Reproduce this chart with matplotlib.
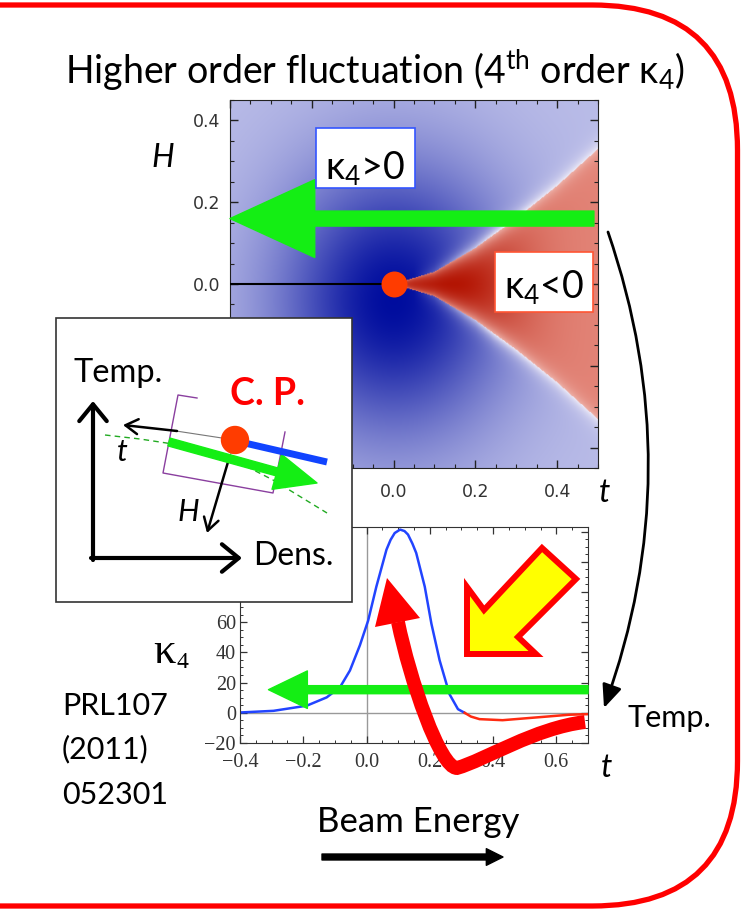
import numpy as np
import matplotlib
matplotlib.use('Agg')
import matplotlib.pyplot as plt
from matplotlib.patches import FancyBboxPatch, FancyArrowPatch, Rectangle, Polygon, PathPatch, Circle
from matplotlib.path import Path

plt.rcParams['font.family'] = ['Lato', 'DejaVu Sans']
plt.rcParams['mathtext.fontset'] = 'custom'
plt.rcParams['mathtext.rm'] = 'Lato'
plt.rcParams['mathtext.it'] = 'Lato:italic'
plt.rcParams['mathtext.bf'] = 'Lato:bold'

# --- kappa4 sign map in the (t, H) plane ---
MAP_T_RANGE = (-0.4, 0.5)
MAP_H_RANGE = (-0.45, 0.45)
WEDGE_T = [0.0, 0.1, 0.2, 0.3, 0.4, 0.5]          # kappa4<0 region boundary
WEDGE_H = [0.0, 0.03, 0.088, 0.16, 0.24, 0.33]
MAP_TICKS = [-0.4, -0.2, 0.0, 0.2, 0.4]
MAP_TICK_LABELS = ['-0.4', '-0.2', '0.0', '0.2', '0.4']
FIRST_ORDER_T = [-0.4, 0.0]
PATH_H = 0.16
PATH_T = [0.49, -0.4]

# --- kappa4 along the path ---
K_T_POS = [-0.4, -0.294, -0.189, -0.126, -0.084, -0.0525, -0.021, 0.005, 0.031,
           0.063, 0.076, 0.089, 0.106, 0.12, 0.131, 0.145, 0.157, 0.184, 0.205,
           0.231, 0.262, 0.289, 0.31]
K_POS = [0.2, 1.3, 4.7, 10.2, 16.9, 28, 44.7, 61, 83.5,
         108, 114.5, 119, 121.3, 120.3, 118, 112, 105.8, 83.5, 59,
         34.7, 12.4, 2.4, 0]
K_T_NEG = [0.31, 0.33, 0.357, 0.43, 0.535, 0.64, 0.7]
K_NEG = [0, -2.5, -4.2, -4.9, -3.1, -1.3, -0.9]
K_XTICKS = [-0.4, -0.2, 0.0, 0.2, 0.4, 0.6]
K_XTICK_LABELS = ['\u22120.4', '\u22120.2', '0.0', '0.2', '0.4', '0.6']
K_YTICKS = [-20, 0, 20, 40, 60, 80, 100, 120]
K_YTICK_LABELS = ['\u221220', '0', '20', '40', '60', '80', '100', '120']
K_PATH_LEVEL = 15.3
K_PATH_T = [0.7, -0.31]

GREEN = '#14ee14'
CP_RED = '#ff3c00'

fig = plt.figure(figsize=(7.42, 9.11), dpi=100)
W, Hpx = 742, 911


def px_axes(l, t, r, b):
    return fig.add_axes([l / W, 1 - b / Hpx, (r - l) / W, (b - t) / Hpx])


# ---------- heat map ----------
ax1 = px_axes(230, 100, 598, 468)
tt = np.linspace(*MAP_T_RANGE, 420)
hh = np.linspace(*MAP_H_RANGE, 420)
T, HH = np.meshgrid(tt, hh)
edge = np.interp(T, WEDGE_T, WEDGE_H)
inside = (T > 0) & (np.abs(HH) < edge)
gap = np.abs(np.abs(HH) - edge)

light = np.array([0.73, 0.74, 0.91])
dark = np.array([0.0, 0.05, 0.62])
b = np.exp(-((T / 0.23) ** 2 + ((HH + 0.04) / 0.27) ** 2)) ** 0.65
rgb = light + (dark - light) * b[..., None]
halo = np.exp(-gap / 0.02) * np.clip((T - 0.05) / 0.2, 0, 1)
halo = np.where(T > 0, halo, 0.0)
rgb = rgb * (1 - halo[..., None]) + np.array([0.93, 0.92, 0.97]) * halo[..., None]

pink = np.array([0.89, 0.52, 0.47])
dred = np.array([0.70, 0.07, 0.0])
rel = np.abs(HH) / np.maximum(edge, 1e-6)
rd = np.exp(-((T - 0.14) / 0.18) ** 2) * np.clip(1 - rel ** 2, 0, 1) ** 0.5
red = pink + (dred - pink) * rd[..., None]
red = red * (1 - 0.5 * halo[..., None]) + np.array([0.97, 0.85, 0.83]) * 0.5 * halo[..., None]
rgb = np.where(inside[..., None], red, rgb)

ax1.imshow(rgb, extent=[*MAP_T_RANGE, *MAP_H_RANGE], origin='lower',
           aspect='auto', interpolation='bilinear')
ax1.set_xlim(*MAP_T_RANGE)
ax1.set_ylim(*MAP_H_RANGE)
ax1.plot(FIRST_ORDER_T, [0, 0], color='black', lw=1.5, zorder=3)
ax1.scatter([0.0], [0.0], s=350, color=CP_RED, zorder=5, clip_on=False, linewidths=0)
ax1.annotate('', xy=(PATH_T[1], PATH_H), xytext=(PATH_T[0], PATH_H),
             arrowprops=dict(arrowstyle='simple,head_length=61,head_width=56,tail_width=10.8',
                             color=GREEN, shrinkA=0, shrinkB=0, mutation_scale=1),
             annotation_clip=False, zorder=4)
ax1.set_xticks(MAP_TICKS, labels=MAP_TICK_LABELS, fontfamily='DejaVu Sans', fontsize=12.5, color='#333333')
ax1.set_yticks(MAP_TICKS, labels=MAP_TICK_LABELS, fontfamily='DejaVu Sans', fontsize=12.5, color='#333333')
ax1.set_xticks(np.arange(-0.4, 0.501, 0.05), minor=True)
ax1.set_yticks(np.arange(-0.45, 0.451, 0.05), minor=True)
ax1.tick_params(which='both', direction='in', top=True, right=True, color='#222222')
ax1.tick_params(which='major', length=6, width=1)
ax1.tick_params(which='minor', length=3, width=0.8)
ax1.tick_params(axis='x', pad=11)
ax1.tick_params(axis='y', pad=7)
for s in ax1.spines.values():
    s.set_color('#222222')

# ---------- kappa4 curve ----------
ax2 = px_axes(240, 527, 588, 743)
ax2.axhline(0, color='#999999', lw=1, zorder=1)
ax2.axvline(0, color='#999999', lw=1, zorder=1)
ax2.plot(K_T_POS, K_POS, color='#2244ff', lw=1.8, zorder=2)
ax2.plot(K_T_NEG, K_NEG, color='#ff2a10', lw=1.8, zorder=2)
ax2.annotate('', xy=(K_PATH_T[1], K_PATH_LEVEL), xytext=(K_PATH_T[0], K_PATH_LEVEL),
             arrowprops=dict(arrowstyle='simple,head_length=28,head_width=27,tail_width=5.8',
                             color=GREEN, shrinkA=0, shrinkB=0, mutation_scale=1),
             annotation_clip=False, zorder=4)
ax2.set_xlim(-0.4, 0.7)
ax2.set_ylim(-20, 123)
ax2.set_xticks(K_XTICKS, labels=K_XTICK_LABELS, fontfamily='Liberation Serif', fontsize=14.5, color='#333333')
ax2.set_yticks(K_YTICKS, labels=K_YTICK_LABELS, fontfamily='Liberation Serif', fontsize=14.5, color='#333333')
ax2.set_xticks(np.arange(-0.4, 0.701, 0.05), minor=True)
ax2.set_yticks(np.arange(-20, 121, 5), minor=True)
ax2.tick_params(which='both', direction='in', top=True, right=True, color='#333333')
ax2.tick_params(which='major', length=5, width=0.9)
ax2.tick_params(which='minor', length=2.5, width=0.7)
ax2.tick_params(axis='x', pad=7.5)
ax2.tick_params(axis='y', pad=3)
for s in ax2.spines.values():
    s.set_color('#333333')

# ---------- overlay (pixel coordinates) ----------
ov = fig.add_axes([0, 0, 1, 1], zorder=10)
ov.set_xlim(0, W)
ov.set_ylim(Hpx, 0)
ov.axis('off')
ov.patch.set_alpha(0)

ov.add_patch(FancyBboxPatch((-400, 5), 1137.5, 901, boxstyle='round,pad=0,rounding_size=145',
                            fc='none', ec='#ff0000', lw=3.8))

ov.text(375, 70, 'Higher order fluctuation (4$^{\\mathrm{th}}$ order \u03ba$_4$)',
        ha='center', va='center', fontsize=27)
ov.text(163, 158, 'H', style='italic', ha='center', va='center', fontsize=23)

# kappa4 sign labels
ov.add_patch(Rectangle((316, 128), 99, 60, fc='white', ec='#3355ff', lw=1.2))
ov.text(365, 168, '\u03ba$_4$>0', ha='center', va='center', fontsize=27)
ov.add_patch(Rectangle((495, 252), 98, 60, fc='white', ec='#ff5533', lw=1.2))
ov.text(544, 287, '\u03ba$_4$<0', ha='center', va='center', fontsize=27)

ov.text(605, 493, 't', style='italic', ha='center', va='center', fontsize=23)
ov.text(607, 768, 't', style='italic', ha='center', va='center', fontsize=23)
ov.text(628, 718, 'Temp.', ha='left', va='center', fontsize=22)

# curved black arrow from map to curve
carc = Path([(608, 232), (690, 470), (604, 708)], [Path.MOVETO, Path.CURVE3, Path.CURVE3])
ov.add_patch(FancyArrowPatch(path=carc, arrowstyle='-|>,head_length=0.7,head_width=0.3',
                             mutation_scale=20, lw=2, color='black'))

# inset schematic
ov.add_patch(Rectangle((56, 318), 296, 284, fc='white', ec='#333333', lw=1.2, zorder=2))
ov.add_patch(FancyArrowPatch((93, 560), (93, 401), arrowstyle='->,head_length=0.55,head_width=0.45',
                             mutation_scale=22, lw=3, color='black', shrinkA=0, shrinkB=0, zorder=3))
ov.add_patch(FancyArrowPatch((91, 558), (242, 558), arrowstyle='->,head_length=0.55,head_width=0.45',
                             mutation_scale=22, lw=3, color='black', shrinkA=0, shrinkB=0, zorder=3))
ov.text(118, 373, 'Temp.', ha='center', va='center', fontsize=23.5, zorder=3)
ov.text(253, 556, 'Dens.', ha='left', va='center', fontsize=23, zorder=3)
ov.text(267, 394, 'C. P.', ha='center', va='center', fontsize=27, fontweight='bold',
        color='#ff0000', zorder=3)
dash_x = [105, 140, 173, 207, 240, 273, 327]
dash_y = [435, 439, 444, 452, 463, 480, 513]
ov.plot(dash_x, dash_y, color='#22aa22', lw=1, ls=(0, (4, 3)), zorder=3)
ov.plot([197, 178, 163, 273, 285], [398, 395, 473, 493, 432], color='#8a3f9f', lw=1, zorder=3)
ov.plot([176, 235], [431, 440], color='#777777', lw=0.8, zorder=3)
ov.plot([235, 228], [440, 463], color='#777777', lw=0.8, zorder=3)
ov.add_patch(FancyArrowPatch((177, 431), (123, 425), arrowstyle='->,head_length=0.5,head_width=0.3',
                             mutation_scale=18, lw=1.8, color='black', shrinkA=0, shrinkB=0, zorder=3))
ov.add_patch(FancyArrowPatch((228, 462), (207, 533), arrowstyle='->,head_length=0.5,head_width=0.3',
                             mutation_scale=18, lw=1.8, color='black', shrinkA=0, shrinkB=0, zorder=3))
ov.text(122, 452, 't', style='italic', ha='center', va='center', fontsize=22, zorder=3)
ov.text(188, 512, 'H', style='italic', ha='center', va='center', fontsize=22, zorder=3)
ov.add_patch(FancyArrowPatch((169, 442), (317, 483),
                             arrowstyle='simple,head_length=30,head_width=26,tail_width=5.8',
                             mutation_scale=1, color=GREEN, shrinkA=0, shrinkB=0, zorder=4))
ov.plot([236, 327], [441, 462], color='#1144ff', lw=5, solid_capstyle='butt', zorder=4)
ov.add_patch(Circle((235, 440), 13.5, color=CP_RED, zorder=5))

# kappa4 axis label
ov.text(164, 652, '\u03ba', fontfamily='Liberation Serif', ha='center', va='center', fontsize=32)
ov.text(182, 662, '4', fontfamily='Liberation Serif', ha='center', va='center', fontsize=17)

# reference
ov.text(62, 706, 'PRL107', ha='left', va='center', fontsize=22)
ov.text(62, 749, '(2011)', ha='left', va='center', fontsize=22)
ov.text(62, 795, '052301', ha='left', va='center', fontsize=22)

ov.text(418, 822, 'Beam Energy', ha='center', va='center', fontsize=25)
ov.add_patch(FancyArrowPatch((322, 857), (503, 857),
                             arrowstyle='simple,head_length=12,head_width=12,tail_width=4.3',
                             mutation_scale=1, color='black', shrinkA=0, shrinkB=0))

# red curved arrow
rpath = Path([(585, 722), (535, 728), (485, 760), (457, 768), (440, 768), (410, 680), (398, 622)],
             [Path.MOVETO, Path.CURVE4, Path.CURVE4, Path.CURVE4, Path.CURVE4, Path.CURVE4, Path.CURVE4])
ov.add_patch(PathPatch(rpath, fc='none', ec='#ff0000', lw=10, capstyle='butt', zorder=6))
ov.add_patch(Polygon([(387, 578), (375, 627), (420, 618)], closed=True, fc='#ff0000', ec='none', zorder=6))

# yellow arrow
ov.add_patch(Polygon([(467, 654), (467, 587), (484, 610), (542, 548), (576, 579), (518, 637), (536, 654)],
                     closed=True, fc='#ffff00', ec='#ff0000', lw=4.3, joinstyle='miter', zorder=6))

fig.savefig('out.png', dpi=100)
